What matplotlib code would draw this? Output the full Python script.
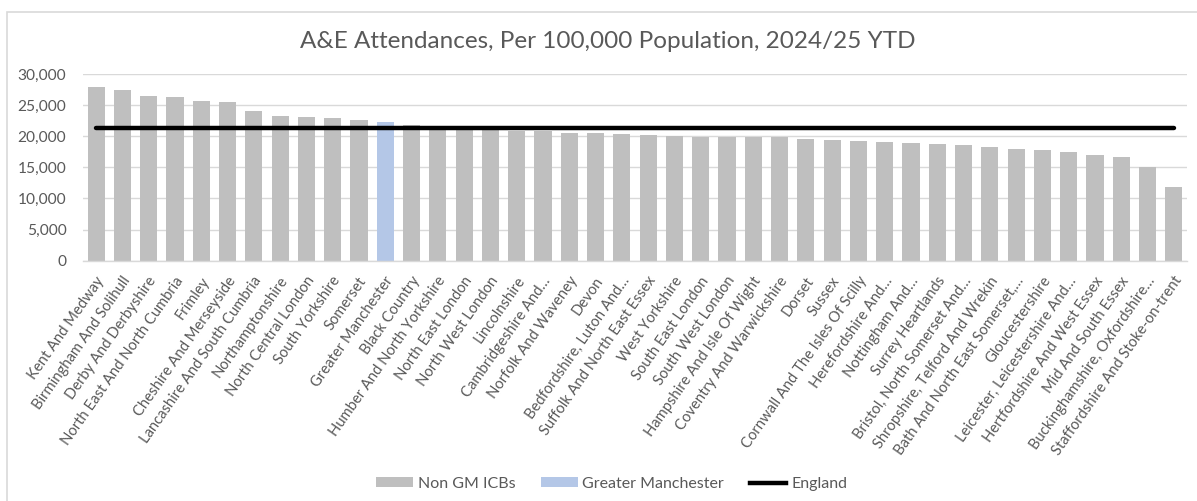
import matplotlib
matplotlib.use("Agg")
import matplotlib.pyplot as plt
import matplotlib.transforms as mtransforms
from matplotlib.patches import Patch, Rectangle
from matplotlib.lines import Line2D
from matplotlib.ticker import FuncFormatter

categories = [
    "Kent And Medway", "Birmingham And Solihull", "Derby And Derbyshire",
    "North East And North Cumbria", "Frimley", "Cheshire And Merseyside",
    "Lancashire And South Cumbria", "Northamptonshire", "North Central London",
    "South Yorkshire", "Somerset", "Greater Manchester", "Black Country",
    "Humber And North Yorkshire", "North East London", "North West London",
    "Lincolnshire", "Cambridgeshire And…", "Norfolk And Waveney", "Devon",
    "Bedfordshire, Luton And…", "Suffolk And North East Essex", "West Yorkshire",
    "South East London", "South West London", "Hampshire And Isle Of Wight",
    "Coventry And Warwickshire", "Dorset", "Sussex", "Cornwall And The Isles Of Scilly",
    "Herefordshire And…", "Nottingham And…", "Surrey Heartlands",
    "Bristol, North Somerset And…", "Shropshire, Telford And Wrekin",
    "Bath And North East Somerset,…", "Gloucestershire", "Leicester, Leicestershire And…",
    "Hertfordshire And West Essex", "Mid And South Essex",
    "Buckinghamshire, Oxfordshire…", "Staffordshire And Stoke-on-trent",
]
values = [
    27960, 27430, 26510, 26260, 25710, 25450, 24100, 23300, 23090, 22930,
    22660, 22290, 21850, 21350, 21250, 21200, 20850, 20800, 20520, 20500,
    20360, 20200, 20040, 19930, 19880, 19880, 19870, 19550, 19440, 19180,
    19070, 18910, 18800, 18540, 18270, 18000, 17840, 17470, 16930, 16660,
    15060, 11790,
]
highlight = "Greater Manchester"
england_value = 21300
yticks = [0, 5000, 10000, 15000, 20000, 25000, 30000]

title = "A&E Attendances, Per 100,000 Population, 2024/25 YTD"
legend_labels = ["Non GM ICBs", "Greater Manchester", "England"]

FONT = "Lato"
TXT = "#595959"
GREY = "#bfbfbf"
BLUE = "#b4c7e7"
GRID = "#d9d9d9"

plt.rcParams["font.family"] = [FONT, "DejaVu Sans"]

W, H = 1197, 501
fig = plt.figure(figsize=(W / 100, H / 100), dpi=100)

# chart frame
fig.add_artist(Rectangle((7 / W, -0.1), 1.2, 1 - 11.5 / H + 0.1,
                         transform=fig.transFigure, fill=False,
                         edgecolor=GRID, linewidth=1.2))

left, right, top, bottom = 83 / W, 1187 / W, 1 - 74 / H, 1 - 260.7 / H
ax = fig.add_axes([left, bottom, right - left, top - bottom])

x = list(range(len(categories)))
colors = [BLUE if c == highlight else GREY for c in categories]
ax.bar(x, values, width=0.65, color=colors, zorder=2)
ax.plot(x, [england_value] * len(x), color="black", linewidth=3.2,
        solid_capstyle="round", zorder=3)

ax.set_xlim(-0.5, len(categories) - 0.5)
ax.set_ylim(0, 30000)
ax.set_yticks(yticks)
ax.yaxis.set_major_formatter(FuncFormatter(lambda v, p: f"{int(v):,}"))
ax.grid(axis="y", color=GRID, linewidth=1.0, zorder=0)
for s in ["top", "right", "left"]:
    ax.spines[s].set_visible(False)
ax.spines["bottom"].set_color(GRID)
ax.spines["bottom"].set_linewidth(1.0)
ax.tick_params(axis="both", length=0, colors=TXT)
ax.tick_params(axis="y", labelsize=11.2, pad=12)
ax.set_xticks(x)
ax.set_xticklabels(categories, rotation=55, ha="right", va="center",
                   rotation_mode="anchor", fontsize=10.6, color=TXT)
ax.tick_params(axis="x", pad=11)
offset = mtransforms.ScaledTranslation(5 / 100, -2 / 100, fig.dpi_scale_trans)
for lbl in ax.get_xticklabels():
    lbl.set_transform(lbl.get_transform() + offset)

fig.text(0.508, 1 - 42 / H, title, ha="center", va="center",
         fontsize=17.5, color=TXT)

handles = [
    Patch(facecolor=GREY, edgecolor="none"),
    Patch(facecolor=BLUE, edgecolor="none"),
    Line2D([0], [0], color="black", linewidth=3.2),
]
fig.legend(handles, legend_labels, loc="center", bbox_to_anchor=(0.511, 1 - 484 / H),
           ncol=3, frameon=False, fontsize=11.5, labelcolor=TXT,
           handlelength=2.3, handleheight=0.6, columnspacing=1.6, handletextpad=0.3)

fig.savefig("out.png", dpi=100, facecolor="white")
